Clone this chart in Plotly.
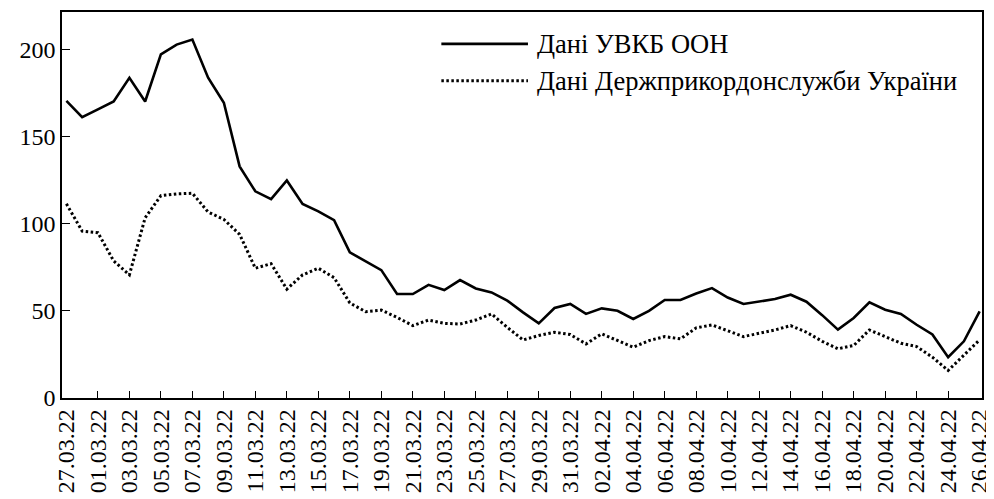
import plotly.graph_objects as go

tick_labels = ["27.03.22", "01.03.22", "03.03.22", "05.03.22", "07.03.22", "09.03.22",
               "11.03.22", "13.03.22", "15.03.22", "17.03.22", "19.03.22", "21.03.22",
               "23.03.22", "25.03.22", "27.03.22", "29.03.22", "31.03.22", "02.04.22",
               "04.04.22", "06.04.22", "08.04.22", "10.04.22", "12.04.22", "14.04.22",
               "16.04.22", "18.04.22", "20.04.22", "22.04.22", "24.04.22", "26.04.22"]

unhcr = [170.3, 161, 165.5, 170, 183.6, 170, 197, 202.6, 205.5, 183.6,
         169.3, 132.8, 118.5, 114, 124.7, 111.3, 107, 102, 83.5, 78.5,
         73.3, 59.6, 59.6, 64.9, 61.9, 67.6, 62.8, 60.5, 55.8, 49.1,
         42.8, 51.6, 53.9, 48.2, 51.4, 50, 45.3, 50, 56.2, 56.2,
         59.9, 63, 57.6, 53.9, 55.4, 56.7, 59.2, 55.2, 47.5, 39.2,
         45.9, 54.8, 50.6, 48.2, 42, 36.4, 23.4, 32.5, 49.7]

border = [111.3, 95.7, 94.8, 78.6, 70.6, 103.3, 116, 117, 117.4, 106.6,
          102.4, 93.8, 74.4, 77, 62.4, 70.6, 74.4, 69, 54.5, 49.5,
          50.4, 46.2, 41.5, 44.7, 42.8, 42.4, 44.7, 48.2, 40.5, 33.3,
          35.8, 37.7, 36.4, 31, 36.8, 32.9, 29.1, 32.9, 35.2, 33.9,
          40.2, 41.9, 38.6, 35.2, 37.1, 39, 41.5, 37.7, 32.5, 28.2,
          30.1, 39, 35.2, 31.4, 29.5, 23.4, 15.8, 24.4, 33.3]

series_names = ["Дані УВКБ ООН", "Дані Держприкордонслужби України"]

days = list(range(len(unhcr)))
tick_pos = days[::2]

FONT = "Liberation Serif"

# page body has an 8px margin: figure sits at (8, 8)
OFF = 8
PL, PR, PT, PB = 62, 986, 10, 398  # plot area in page pixels
W, H = 994 - OFF, 499 - OFF
PW, PH = PR - PL, PB - PT

fig = go.Figure()
fig.add_trace(go.Scatter(x=days, y=unhcr, mode="lines", name=series_names[0],
                         line=dict(color="black", width=2.6), showlegend=False))
fig.add_trace(go.Scatter(x=days, y=border, mode="lines", name=series_names[1],
                         line=dict(color="black", width=3, dash="2.5px,2.5px"),
                         showlegend=False))

# manual legend
leg_rows = [(42, "solid", 2.6), (79, "2.5px,2.5px", 3)]
for (py, dash, w), name in zip(leg_rows, series_names):
    yp = 1 - (py - PT) / PH
    fig.add_shape(type="line", xref="paper", yref="paper",
                  x0=(443 - PL) / PW, x1=(530 - PL) / PW, y0=yp, y1=yp,
                  line=dict(color="black", width=w, dash=dash))
    fig.add_annotation(xref="paper", yref="paper", x=(537 - PL) / PW, y=yp,
                       text=name, showarrow=False, xanchor="left", yanchor="middle",
                       font=dict(family=FONT, size=26.5, color="black"))

fig.update_layout(
    width=W, height=H,
    margin=dict(l=PL - OFF, r=W - (PR - OFF), t=PT - OFF, b=H - (PB - OFF)),
    plot_bgcolor="white", paper_bgcolor="white",
    font=dict(family=FONT, size=23, color="black"),
    showlegend=False,
)
fig.update_xaxes(
    range=[-0.28, 58.15], tickmode="array", tickvals=tick_pos, ticktext=tick_labels,
    tickangle=-90, ticks="", showgrid=False, zeroline=False,
    showline=True, linecolor="black", linewidth=1.5, mirror=True,
    ticklabeloverflow="allow",
    tickfont=dict(family=FONT, size=24, color="black"),
    minor=dict(tickmode="array", tickvals=tick_pos[1:-1], ticks="inside",
               ticklen=7, tickwidth=1.3, tickcolor="black", showgrid=False),
)
fig.update_yaxes(
    range=[0, 221.3], tickmode="array", tickvals=[0, 50, 100, 150, 200],
    ticks="inside", ticklen=8, tickwidth=1.3, tickcolor="black",
    showgrid=False, zeroline=False,
    showline=True, linecolor="black", linewidth=1.5, mirror=True,
    tickfont=dict(family=FONT, size=24, color="black"),
)

fig.write_html("out.html")
